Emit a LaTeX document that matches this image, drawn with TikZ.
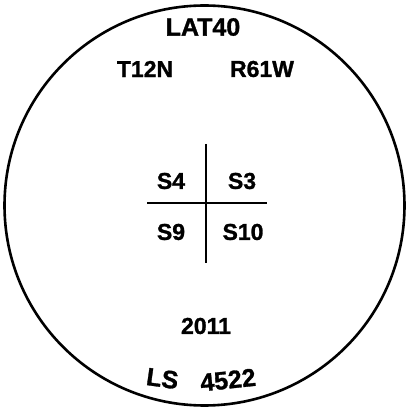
\documentclass[tikz,border=0pt]{standalone}
\usepackage{fontspec}
\setmainfont{Liberation Sans}
\newfontfamily\plotbf[FakeBold=1.2]{Liberation Sans Bold}
\usetikzlibrary{calc}

\begin{document}
\begin{tikzpicture}[x=1pt, y=1pt, thick]
  \useasboundingbox (0,0) rectangle (409,416);
  \tikzset{lbl/.style={font=\plotbf\fontsize{23}{25}\selectfont, inner sep=0pt},
           hand/.style={font=\plotbf\fontsize{25}{27}\selectfont, inner sep=0pt}}
  \coordinate (O) at (204.5, 210.5);
  \coordinate (N) at (206, 272);
  \coordinate (S) at (206, 153);
  \coordinate (W) at (147, 213);
  \coordinate (E) at (267, 213);
  \draw[line width=2.6pt] (O) circle (200);
  \draw[line width=1.8pt] (N) -- (S);
  \draw[line width=1.8pt] (W) -- (E);
  \node[hand] (lat)  at (203, 389) {LAT40};
  \node[lbl]  (twp)  at (145, 347) {T12N};
  \node[lbl]  (rng)  at (262, 347) {R61W};
  \node[lbl]  (s4)   at (171, 235) {S4};
  \node[lbl]  (s3)   at (242, 235) {S3};
  \node[lbl]  (s9)   at (171, 184) {S9};
  \node[lbl]  (s10)  at (243, 184) {S10};
  \node[lbl]  (year) at (206, 90)  {2011};
  \node[hand, rotate=-8] (ls)  at (162.5, 37.5) {LS};
  \node[hand, rotate=6]  (num) at (228, 36)     {4522};
\end{tikzpicture}
\end{document}
